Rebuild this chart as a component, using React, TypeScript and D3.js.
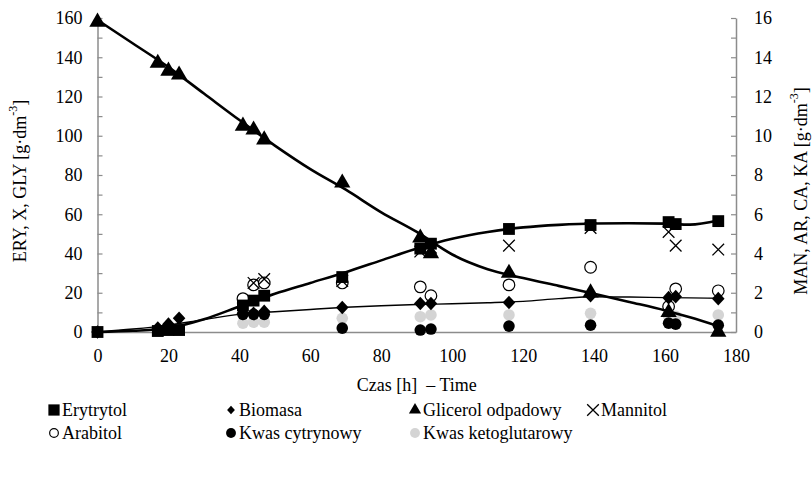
import { useEffect, useRef } from "react";
import * as d3 from "d3";

const WIDTH = 812;
const HEIGHT = 477;
const FONT = "'Liberation Serif', 'Times New Roman', serif";
const AXIS_COLOR = "#8c8c8c";
const KETO_COLOR = "#d4d4d4";

// sampling times [h]
const TIME = [0, 17, 20, 23, 41, 44, 47, 69, 91, 94, 116, 139, 161, 163, 175];

// left axis: ERY, X, GLY [g/dm3]
const ERYTRYTOL = [0, 0.5, 1, 1, 13.5, 16, 18.5, 28, 42.5, 45, 52.5, 54.5, 56, 55, 56.5];
const BIOMASA = [0, 2, 4, 7, 9.5, 9.5, 10.5, 12.5, 14.5, 14.5, 15, 18.5, 17.5, 18, 17];
const GLICEROL = [158, 137, 133, 131, 105, 103, 98, 76, 48, 40, 30, 20, 10, null, 0];

// right axis: MAN, AR, CA, KA [g/dm3]
const MANNITOL = [null, null, null, null, 1.2, 2.5, 2.7, 2.6, 4.1, 4.3, 4.4, 5.3, 5.1, 4.4, 4.2];
const ARABITOL = [null, null, null, null, 1.7, 2.4, 2.5, 2.5, 2.3, 1.85, 2.4, 3.3, 1.3, 2.2, 2.1];
const KWAS_CYTRYNOWY = [null, null, null, null, 0.9, 0.9, 0.9, 0.2, 0.1, 0.15, 0.3, 0.35, 0.45, 0.4, 0.35];
const KWAS_KETOGLUTAROWY = [null, null, 0.15, 0.25, 0.45, 0.5, 0.5, 0.7, 0.78, 0.87, 0.87, 0.95, 0.8, 0.8, 0.87];

// smoothed curves as drawn in the original
const FIT_TIME = [0, 10, 20, 30, 40, 50, 60, 70, 80, 90, 100, 110, 120, 130, 140, 150, 160, 167, 175];
const ERY_FIT = [0, 0.6, 2, 6.5, 13, 19.5, 25, 30.5, 36.5, 42.5, 47.5, 51, 53.3, 54.6, 55.3, 55.4, 55.2, 54.7, 56.8];
const BIO_FIT = [0, 1.5, 3.5, 6.3, 9, 10.3, 11.5, 12.6, 13.4, 14, 14.4, 14.9, 15.6, 17, 18, 17.8, 17.5, 17.4, 17.2];
const GLY_FIT = [159, 147, 135, 121.5, 108, 95, 83, 72.5, 61, 51, 39.5, 32, 27.5, 23.5, 19.5, 15.3, 11, 7.5, 3];

const X_TICKS = d3.range(0, 181, 20);
const LEFT_TICKS = d3.range(0, 161, 10);
const RIGHT_TICKS = d3.range(0, 17, 1);

const LEGEND_ROW1 = ["Erytrytol", "Biomasa", "Glicerol odpadowy", "Mannitol"];
const LEGEND_ROW2 = ["Arabitol", "Kwas cytrynowy", "Kwas ketoglutarowy"];

type Marker = "square" | "diamond" | "triangle" | "cross" | "ring" | "dot" | "grey";

function drawMarker(g: any, kind: Marker, x: number, y: number, s = 1) {
  if (kind === "ring" || kind === "dot" || kind === "grey") {
    g.append("circle")
      .attr("cx", x).attr("cy", y).attr("r", 5.8 * s)
      .attr("fill", kind === "ring" ? "#fff" : kind === "dot" ? "#000" : KETO_COLOR)
      .attr("stroke", kind === "ring" ? "#000" : "none")
      .attr("stroke-width", 1.2);
    return;
  }
  if (kind === "diamond") {
    // squat diamond like the spreadsheet marker
    const w = 6.3 * s, h = 6.8 * s;
    g.append("path")
      .attr("transform", `translate(${x},${y})`)
      .attr("d", `M0,${-h}L${w},0L0,${h}L${-w},0Z`)
      .attr("fill", "#000");
    return;
  }
  const type = kind === "square" ? d3.symbolSquare
    : kind === "triangle" ? d3.symbolTriangle
    : d3.symbolTimes;
  const size = kind === "square" ? 140 : kind === "triangle" ? 115 : 90;
  g.append("path")
    .attr("transform", `translate(${x},${y})`)
    .attr("d", d3.symbol(type, size * s * s)())
    .attr("fill", kind === "cross" ? "none" : "#000")
    .attr("stroke", kind === "cross" ? "#000" : "none")
    .attr("stroke-width", 1.3);
}

function buildChart(svgEl: SVGSVGElement) {
  const margin = { top: 18, right: 76, bottom: 145, left: 97.5 };
  const innerW = WIDTH - margin.left - margin.right;
  const innerH = HEIGHT - margin.top - margin.bottom;

  const svg = d3.select(svgEl);
  svg.selectAll("*").remove();
  svg.attr("width", WIDTH).attr("height", HEIGHT)
    .style("font-family", FONT);

  const g = svg.append("g").attr("transform", `translate(${margin.left},${margin.top})`);

  const x = d3.scaleLinear().domain([0, 180]).range([0, innerW]);
  const yL = d3.scaleLinear().domain([0, 160]).range([innerH, 0]);
  const yR = d3.scaleLinear().domain([0, 16]).range([innerH, 0]);

  const styleAxis = (ax: any) => {
    ax.select(".domain").attr("stroke", AXIS_COLOR).attr("stroke-width", 1.5);
    ax.selectAll("line").attr("stroke", AXIS_COLOR).attr("stroke-width", 1.2);
    ax.selectAll("text").attr("fill", "#000").style("font-size", "18px").style("font-family", FONT);
  };

  // x axis (no ticks)
  g.append("g")
    .attr("transform", `translate(0,${innerH})`)
    .call(d3.axisBottom(x).tickValues(X_TICKS).tickSize(0).tickPadding(17).tickFormat(d3.format("d")))
    .call(styleAxis);

  // left axis, ticks inward
  g.append("g")
    .call(d3.axisLeft(yL).tickValues(LEFT_TICKS).tickSizeInner(-5).tickSizeOuter(0).tickPadding(15)
      .tickFormat((d: any) => (d % 20 === 0 ? String(d) : "")))
    .call(styleAxis);

  // right axis, ticks inward
  g.append("g")
    .attr("transform", `translate(${innerW},0)`)
    .call(d3.axisRight(yR).tickValues(RIGHT_TICKS).tickSizeInner(-5).tickSizeOuter(0).tickPadding(18)
      .tickFormat((d: any) => (d % 2 === 0 ? String(d) : "")))
    .call(styleAxis);

  // right-axis series
  const rightSeries: [number[], Marker][] = [
    [KWAS_KETOGLUTAROWY as any, "grey"],
    [KWAS_CYTRYNOWY as any, "dot"],
    [ARABITOL as any, "ring"],
    [MANNITOL as any, "cross"],
  ];
  rightSeries.forEach(([vals, kind]) => {
    vals.forEach((v, i) => {
      if (v == null) return;
      drawMarker(g, kind, x(TIME[i]), yR(v));
    });
  });

  // left-axis series
  const leftSeries: [number[], Marker][] = [
    [ERYTRYTOL as any, "square"],
    [BIOMASA as any, "diamond"],
    [GLICEROL as any, "triangle"],
  ];
  leftSeries.forEach(([vals, kind]) => {
    vals.forEach((v, i) => {
      if (v == null) return;
      drawMarker(g, kind, x(TIME[i]), yL(v));
    });
  });

  // smoothed lines
  const line = d3.line<number>()
    .x((_, i) => x(FIT_TIME[i]))
    .y((d) => yL(d))
    .curve(d3.curveMonotoneX);

  const fits: [number[], number][] = [
    [BIO_FIT, 1.4],
    [ERY_FIT, 2.6],
    [GLY_FIT, 2.6],
  ];
  fits.forEach(([vals, w]) => {
    g.append("path")
      .datum(vals)
      .attr("fill", "none")
      .attr("stroke", "#000")
      .attr("stroke-width", w)
      .attr("d", line);
  });

  // axis titles
  svg.append("text")
    .attr("transform", `translate(${margin.left + innerW / 2},391)`)
    .attr("text-anchor", "middle")
    .attr("xml:space", "preserve")
    .style("font-size", "18px")
    .text("Czas [h]  \u2013 Time");

  const yTitle = (label: string, cx: number, cy: number) => {
    const t = svg.append("text")
      .attr("transform", `translate(${cx},${cy}) rotate(-90)`)
      .attr("text-anchor", "middle")
      .attr("dominant-baseline", "central")
      .style("font-size", "18px");
    t.append("tspan").text(`${label} [g\u00b7dm`);
    t.append("tspan").attr("baseline-shift", "super").style("font-size", "12px").text("-3");
    t.append("tspan").text("]");
  };
  yTitle("ERY, X, GLY", 20, 181);
  yTitle("MAN, AR, CA, KA", 801, 191);

  // legend
  const rowMarkers1: Marker[] = ["square", "diamond", "triangle", "cross"];
  const rowMarkers2: Marker[] = ["ring", "dot", "grey"];
  const col = [54, 231, 415, 593];
  const legendSizes: Record<Marker, number> = {
    square: 0.95, diamond: 0.62, triangle: 0.75, cross: 1, ring: 0.75, dot: 0.85, grey: 0.85,
  };
  const drawRow = (labels: string[], markers: Marker[], y: number) => {
    labels.forEach((label, i) => {
      drawMarker(svg, markers[i], col[i], y, legendSizes[markers[i]]);
      svg.append("text")
        .attr("x", col[i] + 8)
        .attr("y", y)
        .attr("dominant-baseline", "central")
        .style("font-size", "18px")
        .text(label);
    });
  };
  drawRow(LEGEND_ROW1, rowMarkers1, 410);
  drawRow(LEGEND_ROW2, rowMarkers2, 433);
}

export default function App() {
  const svgRef = useRef<SVGSVGElement | null>(null);

  useEffect(() => {
    if (svgRef.current) buildChart(svgRef.current);
  }, []);

  return (
    <div style={{ position: "absolute", left: 0, top: 0, width: WIDTH, height: HEIGHT, background: "#fff" }}>
      <svg ref={svgRef} style={{ display: "block" }} />
    </div>
  );
}
